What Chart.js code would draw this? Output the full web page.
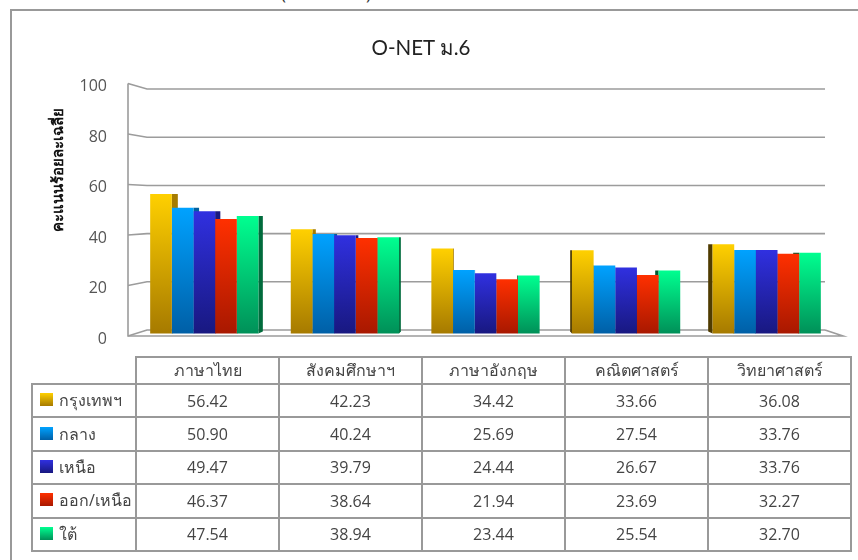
<!DOCTYPE html>
<html>
<head>
<meta charset="utf-8">
<script src="https://cdn.jsdelivr.net/npm/chart.js@4"></script>
<style>
    html, body { margin: 0; padding: 0; background: #fff; overflow: hidden; }
    body { width: 858px; height: 560px; position: relative; font-family: 'Open Sans', 'Noto Sans', 'DejaVu Sans', sans-serif; }
    #frame { position: absolute; left: 10px; top: 9px; width: 860px; height: 600px; border: 2px solid #999; }
    .cut { position: absolute; top: -18px; font-size: 17px; color: #333; }
    #wrap { position: absolute; left: 0; top: 0; width: 858px; height: 560px; }
    #title { position: absolute; left: 271px; width: 300px; top: 31px; text-align: center; font-size: 20.5px; color: #222; font-family: Lato, 'Open Sans', sans-serif; }
    #yTitle { position: absolute; left: -13px; top: 160px; width: 140px; text-align: center; transform: rotate(-90deg); font-size: 15px; font-weight: bold; color: #111; line-height: 20px; white-space: nowrap; }
    table { position: absolute; left: 31px; top: 356px; border-collapse: collapse; table-layout: fixed; width: 821px; color: #444; font-size: 16px; }
    td, th { border: 2px solid #999; text-align: center; font-weight: normal; padding: 0; }
    tr { height: 33.4px; }
    tr.head { height: 27px; }
    th.blank { border: 0; }
    td.name { text-align: left; padding-left: 7px; white-space: nowrap; }
    .swatch { display: inline-block; width: 13px; height: 13px; margin-right: 6px; vertical-align: 0; }
</style>
</head>
<body>
<div id="frame"></div>
<div class="cut" style="left:281px">(</div>
<div class="cut" style="left:366px">)</div>
<div id="wrap"><canvas id="onetChart" width="858" height="560"></canvas></div>
<div id="title">O-NET ม.6</div>
<div id="yTitle">คะแนนร้อยละเฉลี่ย</div>
<table id="dataTable"></table>
<script>
const subjects = ['ภาษาไทย', 'สังคมศึกษาฯ', 'ภาษาอังกฤษ', 'คณิตศาสตร์', 'วิทยาศาสตร์'];
const regions = ['กรุงเทพฯ', 'กลาง', 'เหนือ', 'ออก/เหนือ', 'ใต้'];
const bangkok = [56.42, 42.23, 34.42, 33.66, 36.08];
const central = [50.90, 40.24, 25.69, 27.54, 33.76];
const north = [49.47, 39.79, 24.44, 26.67, 33.76];
const northeast = [46.37, 38.64, 21.94, 23.69, 32.27];
const south = [47.54, 38.94, 23.44, 25.54, 32.70];
const yTicks = [0, 20, 40, 60, 80, 100];

const seriesValues = [bangkok, central, north, northeast, south];
const topColors = ['#FFD000', '#00A2FF', '#3030E0', '#FF3000', '#00FF90'];
const bottomColors = ['#A67A00', '#005FA6', '#181880', '#A81800', '#009058'];
const sideRight = ['#A67C00', '#00609F', '#1A1A80', '#A81800', '#006B3C'];
const sideLeft = ['#4F3B00', '#003A66', '#10105A', '#701000', '#005A32'];

function barGradient(i) {
    return function (ctx) {
        const scale = ctx.chart.scales.yBars;
        if (!scale || ctx.raw === undefined) return topColors[i];
        const y0 = scale.getPixelForValue(ctx.raw), y1 = scale.getPixelForValue(0);
        if (!Number.isFinite(y0) || !Number.isFinite(y1)) return topColors[i];
        const g = ctx.chart.ctx.createLinearGradient(0, y0, 0, y1);
        g.addColorStop(0, topColors[i]);
        g.addColorStop(1, bottomColors[i]);
        return g;
    };
}

// walls, floor and gridlines of the fake 3D box, behind the bars
const boxPlugin = {
    id: 'box',
    beforeDatasetsDraw(chart) {
        const c = chart.ctx, front = chart.scales.y, back = chart.scales.yBack;
        const fl = 128, bl = 147, br = 825, fr = 843;
        c.save();
        c.strokeStyle = '#9C9C9C';
        c.lineWidth = 1.6;
        yTicks.forEach(v => {
            c.beginPath();
            c.moveTo(fl, front.getPixelForValue(v));
            c.lineTo(bl, back.getPixelForValue(v));
            c.lineTo(br, back.getPixelForValue(v));
            c.stroke();
        });
        c.beginPath();
        c.moveTo(fl, front.getPixelForValue(100));
        c.lineTo(fl, front.getPixelForValue(0));
        c.lineTo(fr, front.getPixelForValue(0));
        c.lineTo(br, back.getPixelForValue(0));
        c.stroke();
        c.restore();

        // side faces, they turn with the distance from the vanishing point
        seriesValues.forEach((_, i) => {
            chart.getDatasetMeta(i).data.forEach(bar => {
                const s = (486 - bar.x) * 0.0185;
                const edge = s > 0 ? bar.x + bar.width / 2 : bar.x - bar.width / 2;
                c.fillStyle = s > 0 ? sideRight[i] : sideLeft[i];
                c.beginPath();
                c.moveTo(edge, bar.y);
                c.lineTo(edge + s, bar.y);
                c.lineTo(edge + s, bar.base - 2);
                c.lineTo(edge, bar.base);
                c.closePath();
                c.fill();
            });
        });
    }
};

new Chart(document.getElementById('onetChart').getContext('2d'), {
    type: 'bar',
    data: {
        labels: subjects,
        datasets: regions.map((name, i) => ({
            label: name,
            data: seriesValues[i],
            yAxisID: 'yBars',
            backgroundColor: barGradient(i),
            borderWidth: 0,
            barPercentage: 1,
            categoryPercentage: 0.77
        }))
    },
    plugins: [boxPlugin],
    options: {
        responsive: false,
        animation: false,
        layout: { padding: { left: 74, right: 21, top: 83.5, bottom: 224 } },
        plugins: {
            legend: { display: false },
            tooltip: { enabled: false }
        },
        scales: {
            x: { display: false },
            // front edge of the box, carries the labels
            y: {
                position: 'left',
                min: 0,
                max: 100,
                afterBuildTicks: s => { s.ticks = yTicks.map(value => ({ value })); },
                afterFit: s => { s.width = 60; },
                grid: { display: false, drawTicks: false },
                border: { display: false },
                ticks: { color: '#555', font: { family: "'Open Sans', sans-serif", size: 16 }, padding: 27, labelOffset: 3 }
            },
            // bars sit between the front edge and the back wall
            yBars: { display: false, min: -1.01, max: 101.2 },
            yBack: { display: false, min: -2.49, max: 102.3 }
        }
    }
});

// data table under the chart
const head = '<tr class="head"><th class="blank" style="width:103px"></th>' +
    subjects.map(s => '<th>' + s + '</th>').join('') + '</tr>';
const rows = regions.map((name, i) => {
    const swatch = '<span class="swatch" style="background:linear-gradient(' + topColors[i] + ',' + bottomColors[i] + ')"></span>';
    const cells = seriesValues[i].map(v => '<td>' + v.toFixed(2) + '</td>').join('');
    return '<tr><td class="name">' + swatch + name + '</td>' + cells + '</tr>';
}).join('');
document.getElementById('dataTable').innerHTML = head + rows;
</script>
</body>
</html>
